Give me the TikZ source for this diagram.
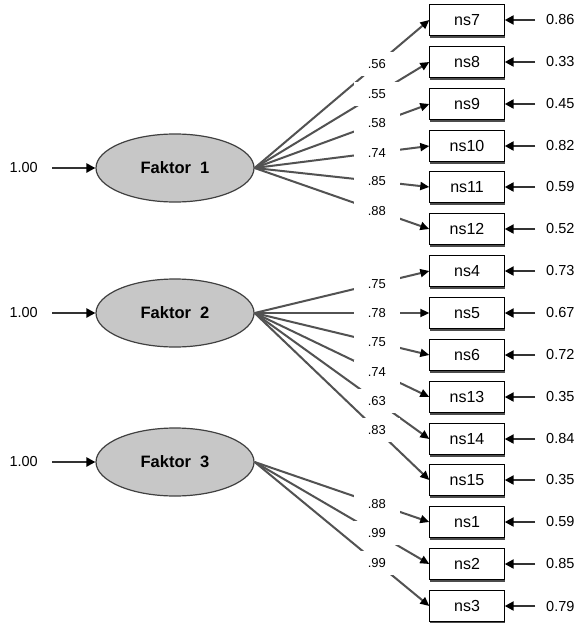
\documentclass[tikz,border=0pt]{standalone}
\usepackage{fontspec}
\setmainfont{Liberation Sans}
\usetikzlibrary{arrows.meta,shapes.geometric,shadows}

\begin{document}
\begin{tikzpicture}[x=1pt,y=-1pt,
  factor/.style={ellipse,draw=black!75,line width=1.2pt,fill=black!22,minimum width=158pt,minimum height=68pt,inner sep=0pt,font=\fontsize{16.5}{18}\selectfont\bfseries},
  item/.style={draw,fill=white,minimum width=75pt,minimum height=31pt,inner sep=0pt,font=\fontsize{16}{18}\selectfont,drop shadow={shadow xshift=0.3pt,shadow yshift=-2.5pt,opacity=1,fill=black!70}},
  load/.style={draw=black!68,line width=2pt,-{Triangle[black,length=9pt,width=8pt]}},
  coef/.style={pos=0.7,fill=white,inner sep=0pt,minimum width=46pt,minimum height=24pt,font=\fontsize{13}{15}\selectfont},
  err/.style={anchor=west,inner xsep=11pt,font=\fontsize{14.5}{16}\selectfont},
  var/.style={anchor=east,inner xsep=14pt,font=\fontsize{14.5}{16}\selectfont},
  errarrow/.style={draw=black!80,line width=2.4pt,-{Triangle[black,length=9pt,width=9pt]}}]
\fill[white] (0,0) rectangle (579,623);
\useasboundingbox (0,0) rectangle (579,623);

% factors
\node[factor] (f1) at (175,168) {Faktor\ \ 1};
\node[factor] (f2) at (175,313) {Faktor\ \ 2};
\node[factor] (f3) at (175,462) {Faktor\ \ 3};
\node[var] (v1) at (52,168) {1.00};
\node[var] (v2) at (52,313) {1.00};
\node[var] (v3) at (52,462) {1.00};
\draw[errarrow] (v1) -- (f1);
\draw[errarrow] (v2) -- (f2);
\draw[errarrow] (v3) -- (f3);

% items
\node[item] (ns7) at (467,20) {ns7};
\node[item] (ns8) at (467,62) {ns8};
\node[item] (ns9) at (467,104) {ns9};
\node[item] (ns10) at (467,146) {ns10};
\node[item] (ns11) at (467,187) {ns11};
\node[item] (ns12) at (467,229) {ns12};
\node[item] (ns4) at (467,271) {ns4};
\node[item] (ns5) at (467,313) {ns5};
\node[item] (ns6) at (467,355) {ns6};
\node[item] (ns13) at (467,397) {ns13};
\node[item] (ns14) at (467,439) {ns14};
\node[item] (ns15) at (467,480) {ns15};
\node[item] (ns1) at (467,522) {ns1};
\node[item] (ns2) at (467,564) {ns2};
\node[item] (ns3) at (467,606) {ns3};

% error terms
\node[err] (e7) at (535,20) {0.86};
\node[err] (e8) at (535,62) {0.33};
\node[err] (e9) at (535,104) {0.45};
\node[err] (e10) at (535,146) {0.82};
\node[err] (e11) at (535,187) {0.59};
\node[err] (e12) at (535,229) {0.52};
\node[err] (e4) at (535,271) {0.73};
\node[err] (e5) at (535,313) {0.67};
\node[err] (e6) at (535,355) {0.72};
\node[err] (e13) at (535,397) {0.35};
\node[err] (e14) at (535,439) {0.84};
\node[err] (e15) at (535,480) {0.35};
\node[err] (e1) at (535,522) {0.59};
\node[err] (e2) at (535,564) {0.85};
\node[err] (e3) at (535,606) {0.79};
\draw[errarrow] (e7) -- (ns7);
\draw[errarrow] (e8) -- (ns8);
\draw[errarrow] (e9) -- (ns9);
\draw[errarrow] (e10) -- (ns10);
\draw[errarrow] (e11) -- (ns11);
\draw[errarrow] (e12) -- (ns12);
\draw[errarrow] (e4) -- (ns4);
\draw[errarrow] (e5) -- (ns5);
\draw[errarrow] (e6) -- (ns6);
\draw[errarrow] (e13) -- (ns13);
\draw[errarrow] (e14) -- (ns14);
\draw[errarrow] (e15) -- (ns15);
\draw[errarrow] (e1) -- (ns1);
\draw[errarrow] (e2) -- (ns2);
\draw[errarrow] (e3) -- (ns3);

% loadings
\draw[load] (f1.east) -- node[coef] {.56} (ns7.west);
\draw[load] (f1.east) -- node[coef] {.55} (ns8.west);
\draw[load] (f1.east) -- node[coef] {.58} (ns9.west);
\draw[load] (f1.east) -- node[coef] {.74} (ns10.west);
\draw[load] (f1.east) -- node[coef] {.85} (ns11.west);
\draw[load] (f1.east) -- node[coef] {.88} (ns12.west);
\draw[load] (f2.east) -- node[coef] {.75} (ns4.west);
\draw[load] (f2.east) -- node[coef] {.78} (ns5.west);
\draw[load] (f2.east) -- node[coef] {.75} (ns6.west);
\draw[load] (f2.east) -- node[coef] {.74} (ns13.west);
\draw[load] (f2.east) -- node[coef] {.63} (ns14.west);
\draw[load] (f2.east) -- node[coef] {.83} (ns15.west);
\draw[load] (f3.east) -- node[coef] {.88} (ns1.west);
\draw[load] (f3.east) -- node[coef] {.99} (ns2.west);
\draw[load] (f3.east) -- node[coef] {.99} (ns3.west);
\end{tikzpicture}
\end{document}
